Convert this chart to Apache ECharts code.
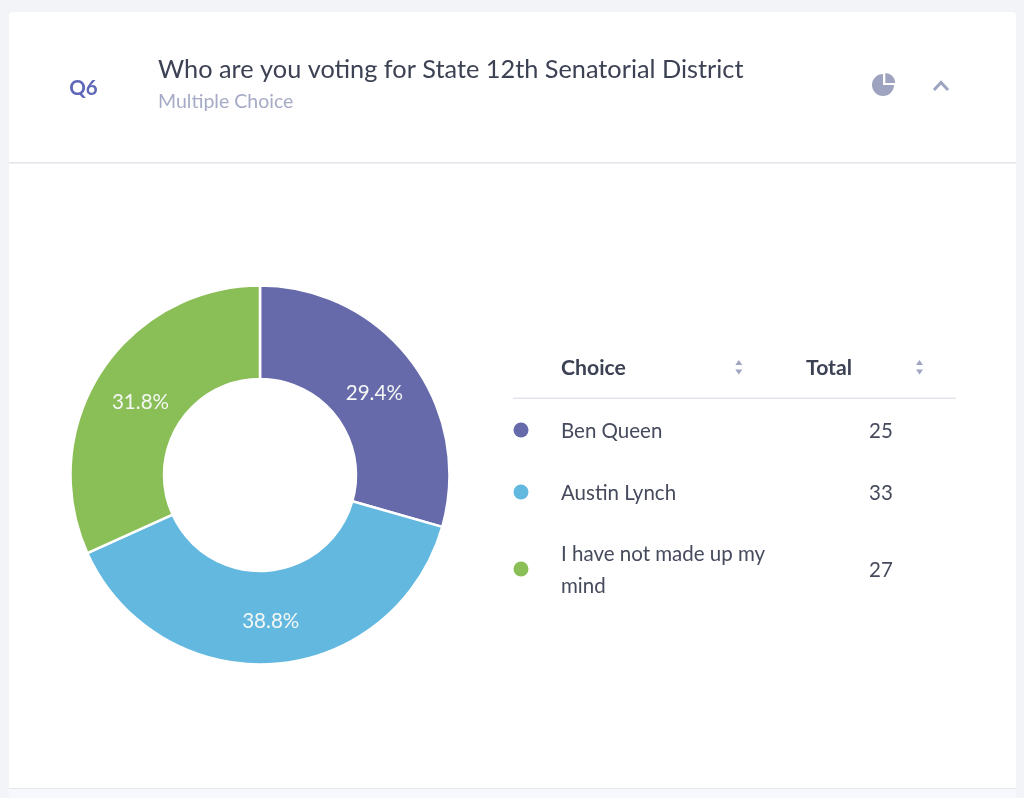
<!DOCTYPE html>
<html><head><meta charset="utf-8">
<style>html,body{margin:0;padding:0;background:#f2f4f8}#c{width:1024px;height:798px}</style>
<script src="https://cdn.jsdelivr.net/npm/echarts@6/dist/echarts.min.js"></script>
</head><body><div id="c"></div>
<script>
const questionId = 'Q6';
const questionTitle = 'Who are you voting for State 12th Senatorial District';
const questionType = 'Multiple Choice';
const tableHeaders = ['Choice', 'Total'];
const choices = ['Ben Queen', 'Austin Lynch', 'I have not made up my mind'];
const choiceLines = [['Ben Queen'], ['Austin Lynch'], ['I have not made up my', 'mind']];
const totals = [25, 33, 27];
const colors = ['#666aab', '#63b8e0', '#8abe56'];

const FONT = 'Lato';
const rowY = [431, 493, 570];
const labelNudge = [[-2, 6], [0, 1], [3, 6]];
const g = [];
const text = (x, y, t, size, fill, weight, align) => g.push({type:'text', x, y, silent:true, z:5,
  style:{text:t, fontFamily:FONT, fontSize:size, fill, fontWeight:weight||400, align:align||'left', verticalAlign:'middle'}});

g.push({type:'rect', z:0, shape:{x:9, y:12, width:1007, height:800, r:4}, style:{fill:'#ffffff'}});
g.push({type:'rect', z:1, shape:{x:9, y:162, width:1007, height:1.5}, style:{fill:'#e3e5ea'}});
g.push({type:'rect', z:1, shape:{x:9, y:788, width:1007, height:10}, style:{fill:'#f6f8fb'}});
g.push({type:'rect', z:1, shape:{x:9, y:788, width:1007, height:1}, style:{fill:'#e3e6ee'}});

text(83.5, 88, questionId, 20.5, '#5f67b8', 700, 'center');
text(158, 70, questionTitle, 25.3, '#3c4254');
text(158, 102, questionType, 19.5, '#a5abc6');

// header icons
g.push({type:'sector', z:3, shape:{cx:883, cy:85, r:11, r0:0, startAngle:0, endAngle:Math.PI*1.5}, style:{fill:'#9ea4bf'}});
g.push({type:'sector', z:3, shape:{cx:885.3, cy:83, r:10, r0:0, startAngle:-Math.PI/2, endAngle:0}, style:{fill:'#9ea4bf'}});
g.push({type:'polyline', z:3, shape:{points:[[934,90],[941,82.5],[948,90]]}, style:{stroke:'#9ea4bf', lineWidth:3, fill:'none'}});

// table
text(561, 368, tableHeaders[0], 21.2, '#3c4254', 700);
text(806, 368, tableHeaders[1], 21.2, '#3c4254', 700);
[738.8, 919.5].forEach(x => {
  g.push({type:'polygon', z:3, shape:{points:[[x-3.5,365],[x+3.5,365],[x,360]]}, style:{fill:'#a0a6c2'}});
  g.push({type:'polygon', z:3, shape:{points:[[x-3.5,369.5],[x+3.5,369.5],[x,374.5]]}, style:{fill:'#a0a6c2'}});
});
g.push({type:'rect', z:1, shape:{x:513, y:397.5, width:443, height:1.5}, style:{fill:'#e3e5ee'}});

choices.forEach((c, i) => {
  g.push({type:'circle', z:3, shape:{cx:521, cy:rowY[i]-1, r:7.5}, style:{fill:colors[i]}});
  const lines = choiceLines[i];
  lines.forEach((l, k) => text(561, rowY[i] + (k - (lines.length-1)/2) * 32, l, 20.5, '#454a5c'));
  text(881, rowY[i], String(totals[i]), 20.5, '#454a5c', 400, 'center');
});

const chart = echarts.init(document.getElementById('c'), null, {renderer:'canvas'});
chart.setOption({
  animation:false,
  backgroundColor:'#f2f4f8',
  graphic:{elements:g},
  series:[{
    type:'pie', z:4, center:[260,475], radius:[96,189.5], startAngle:90, clockwise:true,
    itemStyle:{borderColor:'#ffffff', borderWidth:2.5},
    label:{show:true, position:'inside', color:'#f4f7f4', fontFamily:FONT, fontSize:20.6,
      formatter:p => p.percent.toFixed(1)+'%'},
    labelLine:{show:false},
    labelLayout:p => ({dx:labelNudge[p.dataIndex][0], dy:labelNudge[p.dataIndex][1]}),
    emphasis:{disabled:true},
    data:choices.map((c,i)=>({name:c, value:totals[i], itemStyle:{color:colors[i]}}))
  }]
});
</script></body></html>
